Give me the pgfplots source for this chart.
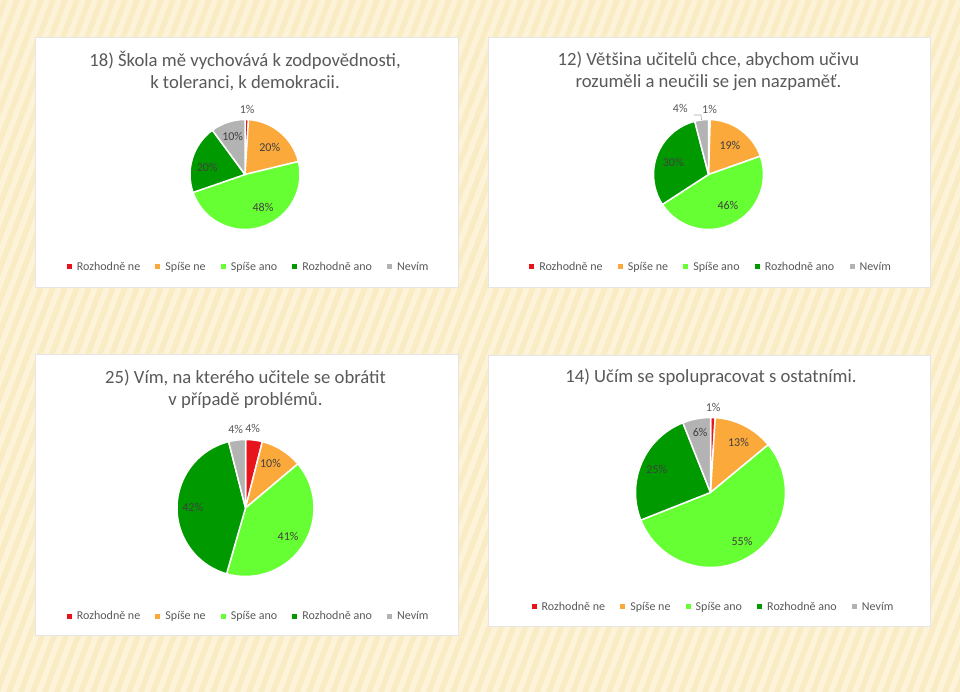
\documentclass[border=0pt]{standalone}
\usepackage{fontspec}
\setmainfont{Carlito}
\usepackage{pgfplots}
\pgfplotsset{compat=1.18}
\usepackage{pgfplotstable}

\definecolor{c0}{HTML}{E8141C}
\definecolor{c1}{HTML}{FBA93B}
\definecolor{c2}{HTML}{66FF33}
\definecolor{c3}{HTML}{009A00}
\definecolor{c4}{HTML}{B3B3B3}
\definecolor{txt}{HTML}{595959}
\definecolor{labin}{HTML}{404040}
\definecolor{bgbase}{HTML}{F9EBC3}
\definecolor{bgstripe}{HTML}{FCF3D8}

% v = share, lab = printed percent, lr = label radius (x R), la = label angle shift, lead = leader line
\pgfplotstableread{
v    lab lr   la    lead
1    1   1.19 0     0
20   20  0.66 -3    0
48   48  0.69 12    0
20   20  0.70 6     0
10   10  0.72 0     0
}\tabA
\pgfplotstableread{
v    lab lr   la    lead
0.5  1   1.19 0     0
19   19  0.66 0     0
46   46  0.66 6     0
30   30  0.68 2     0
4    4   1.30 16    1
}\tabB
\pgfplotstableread{
v    lab lr   la    lead
4    4   1.17 2     0
10   10  0.75 3     0
41   41  0.75 -1    0
42   42  0.77 0     0
4    4   1.16 0     0
}\tabC
\pgfplotstableread{
v    lab lr   la    lead
1    1   1.14 0     0
13   13  0.77 -2    0
55   55  0.78 2     0
25   25  0.78 0     0
6    6   0.81 -1    0
}\tabD

% #1 table, #2 centre x (px), #3 centre y (px from top), #4 radius (px)
\newcommand{\drawpie}[4]{%
  \pgfmathsetmacro{\pcy}{692-#3}%
  \gdef\psum{0}%
  \pgfplotstableforeachcolumnelement{v}\of#1\as\cell{\pgfmathsetmacro{\tmp}{\psum+\cell}\xdef\psum{\tmp}}%
  \pgfmathsetmacro{\pf}{360/\psum}%
  \gdef\pcum{0}%
  \foreach \i in {0,...,4}{%
    \pgfplotstablegetelem{\i}{v}\of#1\let\pv\pgfplotsretval
    \pgfmathsetmacro{\sa}{90-\pf*\pcum}%
    \pgfmathsetmacro{\ea}{90-\pf*(\pcum+\pv)}%
    \fill[c\i, draw=white, line width=1.5pt, line join=round]
      (axis cs:#2,\pcy) -- ++(\sa:#4pt) arc[start angle=\sa, end angle=\ea, radius=#4pt] -- cycle;
    \pgfmathsetmacro{\tmp}{\pcum+\pv}\xdef\pcum{\tmp}%
  }%
  \gdef\pcum{0}%
  \foreach \i in {0,...,4}{%
    \pgfplotstablegetelem{\i}{v}\of#1\let\pv\pgfplotsretval
    \pgfplotstablegetelem{\i}{lab}\of#1\let\plab\pgfplotsretval
    \pgfplotstablegetelem{\i}{lr}\of#1\let\plr\pgfplotsretval
    \pgfplotstablegetelem{\i}{la}\of#1\let\pla\pgfplotsretval
    \pgfplotstablegetelem{\i}{lead}\of#1\let\plead\pgfplotsretval
    \pgfmathsetmacro{\ma}{90-\pf*(\pcum+\pv/2)}%
    \pgfmathsetmacro{\lang}{\ma+\pla}%
    \pgfmathsetmacro{\lrad}{\plr*#4}%
    \pgfmathtruncatemacro{\isout}{\plr>1}%
    \ifnum\isout=1 \def\lcol{txt}\else\def\lcol{labin}\fi
    \path (axis cs:#2,\pcy) ++(\lang:\lrad pt)
      node[text=\lcol, font=\fontsize{12}{14}\selectfont, inner sep=0pt] {\plab\%};
    \pgfmathtruncatemacro{\haslead}{\plead}%
    \ifnum\haslead=1
      \pgfmathsetmacro{\lradb}{0.09*#4}%
      \draw[black!35, line width=0.6pt] (axis cs:#2,\pcy) ++(\ma:#4pt) -- ++(\ma:\lradb pt) -- ++(-7pt,0pt);
    \fi
    \pgfmathsetmacro{\tmp}{\pcum+\pv}\xdef\pcum{\tmp}%
  }%
}

\pgfplotsset{
  legend image code/.code={\fill[#1, draw=none] (0pt,-2.5pt) rectangle (5pt,2.5pt);\path (0pt,0pt) (7.8pt,0pt);},
  pie panel/.style={
    hide axis, scale only axis, clip=false, anchor=south west,
    legend columns=5,
    legend style={draw=none, fill=none, anchor=center,
      font=\fontsize{12}{14}\selectfont, text=txt,
      /tikz/every even column/.append style={column sep=13pt}},
  },
}
\tikzset{ttl/.style={text=txt, font=\fontsize{18.67}{22}\selectfont, align=center}}

\newcommand{\pieleg}{%
  \addlegendimage{fill=c0}\addlegendentry{Rozhodně ne}
  \addlegendimage{fill=c1}\addlegendentry{Spíše ne}
  \addlegendimage{fill=c2}\addlegendentry{Spíše ano}
  \addlegendimage{fill=c3}\addlegendentry{Rozhodně ano}
  \addlegendimage{fill=c4}\addlegendentry{Nevím}
}

\begin{document}
\begin{tikzpicture}
\fill[bgbase] (0,0) rectangle (960pt,692pt);
\begin{scope}
  \clip (0,0) rectangle (960pt,692pt);
  \foreach \k in {-26,...,81}{\fill[bgstripe] ({\k*12pt},0) -- ++(6pt,0pt) -- ++(260pt,692pt) -- ++(-6pt,0pt) -- cycle;}
\end{scope}
\foreach \x/\y/\w/\h in {35/405/423/250, 488/405/442/250, 35/57/423/281, 488/66/442/271}
  \fill[white, draw=black!10, line width=0.8pt] (\x pt,\y pt) rectangle ++(\w pt,\h pt);

% 18)
\begin{axis}[pie panel, at={(35pt,405pt)}, width=423pt, height=250pt,
  xmin=35, xmax=458, ymin=405, ymax=655,
  legend style={at={(0.505,0.08)}}]
  \pieleg
  \pgfplotsextra{\drawpie{\tabA}{245}{174.5}{55}}
  \node[ttl] at (axis cs:245,621) {18) Škola mě vychovává k zodpovědnosti,\\k toleranci, k demokracii.};
\end{axis}

% 12)
\begin{axis}[pie panel, at={(488pt,405pt)}, width=442pt, height=250pt,
  xmin=488, xmax=930, ymin=405, ymax=655,
  legend style={at={(0.5045,0.08)}}]
  \pieleg
  \pgfplotsextra{\drawpie{\tabB}{708.5}{174.5}{55}}
  \node[ttl] at (axis cs:708.5,621) {12) Většina učitelů chce, abychom učivu\\rozuměli a neučili se jen nazpaměť.};
\end{axis}

% 25)
\begin{axis}[pie panel, at={(35pt,57pt)}, width=423pt, height=281pt,
  xmin=35, xmax=458, ymin=57, ymax=338,
  legend style={at={(0.505,0.0676)}}]
  \pieleg
  \pgfplotsextra{\drawpie{\tabC}{245.5}{508}{68.5}}
  \node[ttl] at (axis cs:245.5,303) {25) Vím, na kterého učitele se obrátit\\v případě problémů.};
\end{axis}

% 14)
\begin{axis}[pie panel, at={(488pt,66pt)}, width=442pt, height=271pt,
  xmin=488, xmax=930, ymin=66, ymax=337,
  legend style={at={(0.51,0.0701)}}]
  \pieleg
  \pgfplotsextra{\drawpie{\tabD}{710.5}{492.5}{75}}
  \node[ttl] at (axis cs:711,315) {14) Učím se spolupracovat s ostatními.};
\end{axis}
\end{tikzpicture}
\end{document}
